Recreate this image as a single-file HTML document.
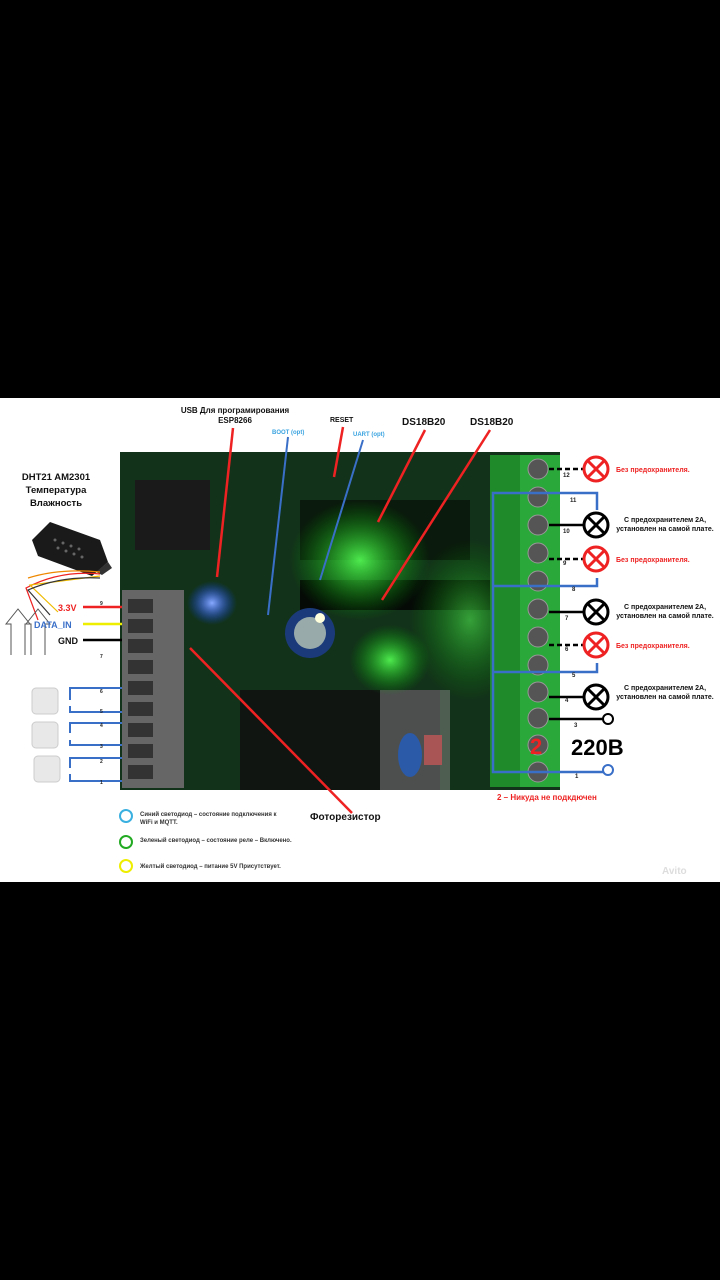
<!DOCTYPE html>
<html><head><meta charset="utf-8"><style>
html,body{margin:0;padding:0;background:#000;width:720px;height:1280px;overflow:hidden}
svg{display:block}
text{font-family:"Liberation Sans","Noto Sans CJK SC",sans-serif;font-weight:bold}
</style></head><body>
<svg width="720" height="1280" viewBox="0 0 720 1280">
<defs>
<radialGradient id="gl" cx="50%" cy="50%" r="50%"><stop offset="0" stop-color="#5f5" stop-opacity=".9"/><stop offset="1" stop-color="#0a0" stop-opacity="0"/></radialGradient>
<radialGradient id="bl" cx="50%" cy="50%" r="50%"><stop offset="0" stop-color="#8af" stop-opacity="1"/><stop offset="1" stop-color="#03f" stop-opacity="0"/></radialGradient>
</defs>
<rect x="0" y="0" width="720" height="1280" fill="#000"/>
<rect x="0" y="398" width="720" height="484" fill="#fff"/>
<!-- PCB -->
<rect x="120" y="452" width="440" height="338" fill="#0e2a14"/>
<rect x="120" y="452" width="440" height="338" fill="#163a1c" opacity=".6"/>
<rect x="135" y="480" width="75" height="70" fill="#1a1a1a"/>
<rect x="300" y="500" width="170" height="60" fill="#0a1a0c"/>
<rect x="300" y="580" width="200" height="30" fill="#050a06"/>
<rect x="240" y="690" width="200" height="100" fill="#101512"/>
<rect x="380" y="690" width="70" height="100" fill="#8a8a8a" opacity=".5"/>
<circle cx="310" cy="633" r="25" fill="#1b3a7a"/>
<circle cx="310" cy="633" r="16" fill="#9aa"/>
<ellipse cx="360" cy="560" rx="70" ry="60" fill="url(#gl)"/>
<ellipse cx="390" cy="660" rx="40" ry="35" fill="url(#gl)"/>
<ellipse cx="470" cy="620" rx="60" ry="80" fill="url(#gl)" opacity=".6"/>
<ellipse cx="212" cy="603" rx="25" ry="22" fill="url(#bl)"/>
<circle cx="320" cy="618" r="5" fill="#ffd"/>
<rect x="424" y="735" width="18" height="30" fill="#a55"/>
<ellipse cx="410" cy="755" rx="12" ry="22" fill="#2a5aa8"/>
<!-- left connector -->
<rect x="122" y="590" width="62" height="198" fill="#666"/>
<g fill="#333">
<rect x="128" y="599" width="25" height="14"/><rect x="128" y="619" width="25" height="14"/><rect x="128" y="639" width="25" height="14"/><rect x="128" y="660" width="25" height="14"/><rect x="128" y="681" width="25" height="14"/><rect x="128" y="702" width="25" height="14"/><rect x="128" y="723" width="25" height="14"/><rect x="128" y="744" width="25" height="14"/><rect x="128" y="765" width="25" height="14"/>
</g>
<!-- terminal block -->
<rect x="490" y="455" width="70" height="332" fill="#1f8a2a"/>
<rect x="520" y="455" width="40" height="332" fill="#2aa83a"/>
<g fill="#555" stroke="#999" stroke-width="1">
<circle cx="538" cy="469" r="10"/><circle cx="538" cy="497" r="10"/><circle cx="538" cy="525" r="10"/><circle cx="538" cy="553" r="10"/><circle cx="538" cy="581" r="10"/><circle cx="538" cy="609" r="10"/><circle cx="538" cy="637" r="10"/><circle cx="538" cy="665" r="10"/><circle cx="538" cy="692" r="10"/><circle cx="538" cy="718" r="10"/><circle cx="538" cy="745" r="10"/><circle cx="538" cy="772" r="10"/>
</g>
<text x="530" y="754" font-size="22" fill="#e22">2</text>
<!-- blue wiring right -->
<g stroke="#3a6fc8" stroke-width="2.5" fill="none">
<path d="M549 493H493V772H549"/><path d="M493 586H549"/><path d="M493 672H549"/>
<path d="M549 493H597V510"/><path d="M549 586H597V578"/><path d="M549 672H597V663"/>
<path d="M549 772H606"/>
</g>
<g stroke="#000" stroke-width="2.5">
<path d="M549 525H583"/><path d="M549 612H583"/><path d="M549 697H583"/><path d="M549 719H604"/>
<path d="M549 469H583" stroke-dasharray="5,3"/><path d="M549 559H583" stroke-dasharray="5,3"/><path d="M549 645H583" stroke-dasharray="5,3"/>
</g>
<circle cx="608" cy="719" r="5" fill="#fff" stroke="#000" stroke-width="2"/>
<circle cx="608" cy="770" r="5" fill="#fff" stroke="#3a6fc8" stroke-width="2"/>
<g fill="#fff" stroke-width="3">
<g stroke="#e22"><circle cx="596" cy="469" r="12"/><path d="M588 461l16 16M604 461l-16 16"/>
<circle cx="596" cy="559" r="12"/><path d="M588 551l16 16M604 551l-16 16"/>
<circle cx="596" cy="645" r="12"/><path d="M588 637l16 16M604 637l-16 16"/></g>
<g stroke="#000"><circle cx="596" cy="525" r="12"/><path d="M588 517l16 16M604 517l-16 16"/>
<circle cx="596" cy="612" r="12"/><path d="M588 604l16 16M604 604l-16 16"/>
<circle cx="596" cy="697" r="12"/><path d="M588 689l16 16M604 689l-16 16"/></g>
</g>
<g font-size="6" fill="#222" font-weight="normal">
<text x="563" y="477">12</text><text x="570" y="502">11</text><text x="563" y="533">10</text><text x="563" y="565">9</text><text x="572" y="591">8</text><text x="565" y="620">7</text><text x="565" y="651">6</text><text x="572" y="677">5</text><text x="565" y="702">4</text><text x="574" y="727">3</text><text x="575" y="778">1</text>
</g>
<g font-size="7" fill="#e22"><text x="616" y="472">Без предохранителя.</text><text x="616" y="562">Без предохранителя.</text><text x="616" y="648">Без предохранителя.</text></g>
<g font-size="7" fill="#111" text-anchor="middle">
<text x="665" y="522">С предохранителем 2А,</text><text x="665" y="531">установлен на самой плате.</text>
<text x="665" y="609">С предохранителем 2А,</text><text x="665" y="618">установлен на самой плате.</text>
<text x="665" y="690">С предохранителем 2А,</text><text x="665" y="699">установлен на самой плате.</text>
</g>
<text x="571" y="755" font-size="22" fill="#000">220В</text>
<text x="497" y="800" font-size="8" fill="#e22">2 – Никуда не подкдючен</text>
<!-- top labels -->
<text x="235" y="413" font-size="8" fill="#111" text-anchor="middle">USB Для програмирования</text>
<text x="235" y="423" font-size="8" fill="#111" text-anchor="middle">ESP8266</text>
<text x="272" y="434" font-size="6" fill="#3aa3e0">BOOT (opt)</text>
<text x="330" y="422" font-size="7" fill="#111">RESET</text>
<text x="353" y="436" font-size="6" fill="#3aa3e0">UART (opt)</text>
<text x="402" y="425" font-size="10" fill="#111">DS18B20</text>
<text x="470" y="425" font-size="10" fill="#111">DS18B20</text>
<g stroke="#e22" stroke-width="2.5" fill="none">
<path d="M233 428L217 577"/><path d="M343 427L334 477"/><path d="M425 430L378 522"/><path d="M490 430L382 600"/><path d="M352 813L190 648"/>
</g>
<g stroke="#3a6fc8" stroke-width="2" fill="none"><path d="M288 437L268 615"/><path d="M363 440L320 580"/></g>
<!-- DHT -->
<text x="56" y="480" font-size="9.5" fill="#111" text-anchor="middle">DHT21 AM2301</text>
<text x="56" y="493" font-size="9.5" fill="#111" text-anchor="middle">Температура</text>
<text x="56" y="506" font-size="9.5" fill="#111" text-anchor="middle">Влажность</text>
<path d="M50 522L100 540L108 562L92 576L38 556L32 540Z" fill="#1a1a1a"/>
<path d="M108 562L112 568L102 575L96 572Z" fill="#333"/>
<g fill="#666"><circle cx="55" cy="540" r="1.5"/><circle cx="63" cy="543" r="1.5"/><circle cx="71" cy="546" r="1.5"/><circle cx="79" cy="549" r="1.5"/><circle cx="58" cy="548" r="1.5"/><circle cx="66" cy="551" r="1.5"/><circle cx="74" cy="554" r="1.5"/><circle cx="82" cy="557" r="1.5"/></g>
<path d="M100 574Q60 570 26 588L38 620" stroke="#e22" stroke-width="1.2" fill="none"/>
<path d="M100 576Q70 580 30 585L58 612" stroke="#eb0" stroke-width="1.2" fill="none"/>
<path d="M100 578Q60 576 28 590L50 615" stroke="#333" stroke-width="1.2" fill="none"/>
<path d="M100 572Q60 568 28 578" stroke="#e80" stroke-width="1.2" fill="none"/>
<path d="M11 655V624H6L18 609L30 624H25V655M31 655V624H26L38 609L50 624H45V655" stroke="#555" fill="none"/>
<text x="58" y="611" font-size="9" fill="#e22">3.3V</text>
<text x="34" y="628" font-size="9" fill="#3a6fc8">DATA_IN</text>
<text x="58" y="644" font-size="9" fill="#111">GND</text>
<path d="M83 607H122" stroke="#e22" stroke-width="2.5"/><path d="M83 624H122" stroke="#ee0" stroke-width="2.5"/><path d="M83 640H122" stroke="#000" stroke-width="2.5"/>
<g stroke="#3a6fc8" stroke-width="2" fill="none">
<path d="M122 688H70V700M70 706V712H122"/><path d="M122 723H70V733M70 740V745H122"/><path d="M122 758H70V768M70 774V781H122"/>
</g>
<g fill="#e8e8e8" stroke="#ccc"><rect x="32" y="688" width="26" height="26" rx="4"/><rect x="32" y="722" width="26" height="26" rx="4"/><rect x="34" y="756" width="26" height="26" rx="4"/></g>
<g font-size="5" fill="#222" font-weight="normal"><text x="100" y="605">9</text><text x="100" y="658">7</text><text x="100" y="693">6</text><text x="100" y="713">5</text><text x="100" y="727">4</text><text x="100" y="748">3</text><text x="100" y="763">2</text><text x="100" y="784">1</text></g>
<text x="310" y="820" font-size="10" fill="#111">Фоторезистор</text>
<g stroke-width="2" fill="none"><circle cx="126" cy="816" r="6" stroke="#3ab0e0"/><circle cx="126" cy="842" r="6" stroke="#2a2"/><circle cx="126" cy="866" r="6" stroke="#ee0"/></g>
<g font-size="6" fill="#333" font-weight="normal">
<text x="140" y="816">Синий светодиод – состояние подключения к</text><text x="140" y="824">WiFi и MQTT.</text>
<text x="140" y="842">Зеленый светодиод – состояние реле – Включено.</text>
<text x="140" y="868">Желтый светодиод – питание 5V Присутствует.</text>
</g>
<text x="662" y="874" font-size="10" fill="#ddd">Avito</text>
</svg>
</body></html>
